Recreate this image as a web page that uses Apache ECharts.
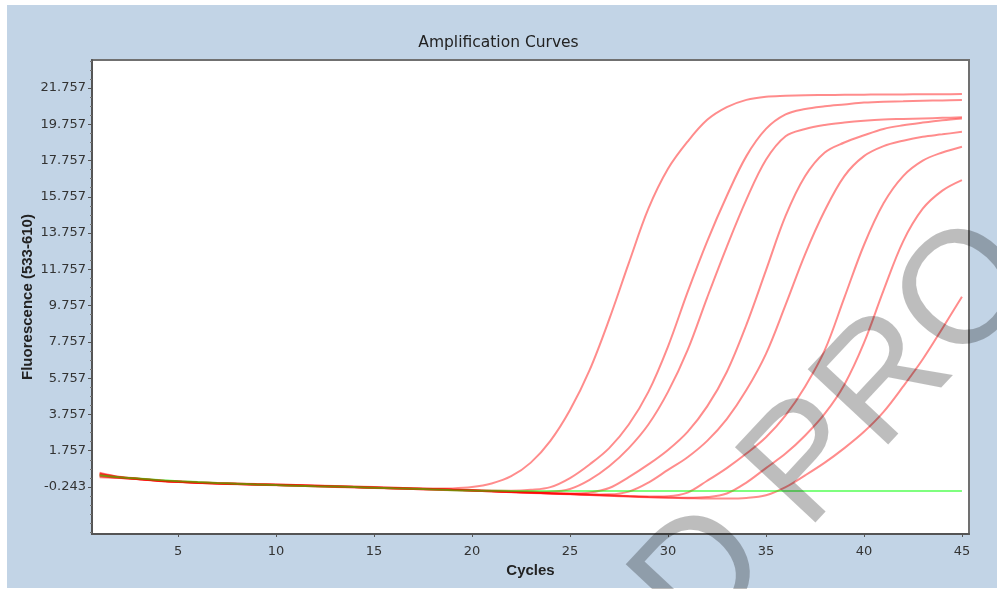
<!DOCTYPE html>
<html>
<head>
<meta charset="utf-8">
<script src="https://cdn.jsdelivr.net/npm/echarts@6/dist/echarts.min.js"></script>
<style>
  html, body { margin: 0; padding: 0; background: #ffffff; }
  #chart { width: 997px; height: 589px; }
</style>
</head>
<body>
<div id="chart"></div>
<script>
// ---- data ----
const cycles = [1,2,3,4,5,6,7,8,9,10,11,12,13,14,15,16,17,18,19,20,21,22,23,24,25,26,27,28,29,30,31,32,33,34,35,36,37,38,39,40,41,42,43,44,45];

const curveA = [0.55,0.32,0.22,0.13,0.07,0.02,-0.02,-0.05,-0.08,-0.10,-0.13,-0.16,-0.19,-0.22,-0.25,-0.28,-0.31,-0.33,-0.32,-0.25,-0.05,0.35,1.1,2.3,4.0,6.2,9.0,12.1,15.1,17.3,18.8,20.0,20.7,21.1,21.28,21.33,21.36,21.37,21.38,21.39,21.40,21.40,21.41,21.41,21.42];
const curveB = [0.45,0.30,0.21,0.12,0.06,0.01,-0.03,-0.06,-0.09,-0.11,-0.14,-0.17,-0.20,-0.23,-0.26,-0.29,-0.32,-0.35,-0.38,-0.41,-0.44,-0.45,-0.40,-0.25,0.25,1.0,1.9,3.2,5.0,7.5,10.5,13.3,15.8,18.0,19.5,20.3,20.6,20.75,20.85,20.95,21.0,21.02,21.05,21.07,21.09];
const curveC = [0.38,0.27,0.19,0.10,0.04,-0.01,-0.05,-0.08,-0.11,-0.13,-0.16,-0.19,-0.22,-0.25,-0.28,-0.31,-0.34,-0.37,-0.40,-0.43,-0.47,-0.50,-0.52,-0.50,-0.35,0.15,0.9,1.9,3.2,5.0,7.3,10.2,13.0,15.6,17.8,19.1,19.5,19.72,19.85,19.95,20.02,20.05,20.08,20.11,20.14];
const curveD = [0.48,0.30,0.20,0.11,0.05,0.00,-0.04,-0.08,-0.11,-0.13,-0.16,-0.19,-0.22,-0.25,-0.28,-0.31,-0.34,-0.37,-0.40,-0.44,-0.48,-0.52,-0.55,-0.58,-0.60,-0.55,-0.30,0.3,1.0,1.8,2.8,4.2,6.1,8.7,11.7,14.7,16.9,18.2,18.75,19.15,19.5,19.7,19.85,19.98,20.08];
const curveE = [0.35,0.26,0.19,0.10,0.04,-0.01,-0.05,-0.08,-0.11,-0.14,-0.17,-0.20,-0.23,-0.26,-0.29,-0.32,-0.35,-0.38,-0.41,-0.44,-0.48,-0.52,-0.56,-0.60,-0.63,-0.66,-0.65,-0.50,0.0,0.7,1.4,2.3,3.5,5.1,7.1,9.8,12.6,15.0,16.9,18.0,18.55,18.85,19.07,19.2,19.34];
const curveF = [0.50,0.31,0.21,0.12,0.06,0.01,-0.03,-0.07,-0.10,-0.12,-0.15,-0.18,-0.21,-0.24,-0.27,-0.30,-0.33,-0.36,-0.39,-0.43,-0.47,-0.51,-0.55,-0.59,-0.62,-0.66,-0.70,-0.74,-0.77,-0.75,-0.55,0.1,0.8,1.6,2.5,3.7,5.3,7.3,10.2,13.1,15.4,16.9,17.75,18.2,18.52];
const curveG = [0.42,0.29,0.20,0.11,0.05,0.00,-0.04,-0.07,-0.10,-0.13,-0.16,-0.19,-0.22,-0.25,-0.28,-0.31,-0.34,-0.37,-0.40,-0.43,-0.47,-0.51,-0.55,-0.59,-0.63,-0.67,-0.71,-0.75,-0.79,-0.82,-0.84,-0.80,-0.60,0.0,0.8,1.6,2.6,3.8,5.4,7.7,10.6,13.3,15.1,16.1,16.68];
const curveH = [0.30,0.25,0.18,0.09,0.03,-0.02,-0.06,-0.09,-0.12,-0.15,-0.18,-0.21,-0.24,-0.27,-0.30,-0.33,-0.36,-0.39,-0.42,-0.45,-0.49,-0.53,-0.57,-0.61,-0.65,-0.69,-0.73,-0.77,-0.81,-0.84,-0.86,-0.88,-0.88,-0.85,-0.70,-0.25,0.4,1.1,1.9,2.8,3.9,5.3,6.8,8.5,10.25];
const negControl = [0.40,0.30,0.22,0.14,0.08,0.03,-0.02,-0.06,-0.10,-0.14,-0.17,-0.20,-0.22,-0.25,-0.28,-0.31,-0.34,-0.38,-0.42,-0.44,-0.45,-0.46,-0.46,-0.46,-0.46,-0.46,-0.46,-0.46,-0.46,-0.46,-0.46,-0.46,-0.46,-0.46,-0.46,-0.46,-0.46,-0.46,-0.46,-0.46,-0.46,-0.46,-0.46,-0.46,-0.46];

const redCurves = [curveA, curveB, curveC, curveD, curveE, curveF, curveG, curveH];

const yTickLabels = [-0.243, 1.757, 3.757, 5.757, 7.757, 9.757, 11.757, 13.757, 15.757, 17.757, 19.757, 21.757];
const xTickLabels = [5, 10, 15, 20, 25, 30, 35, 40, 45];

const chartTitle = 'Amplification Curves';
const yName = 'Fluorescence (533-610)';
const xName = 'Cycles';
const watermark = 'D PRO';

// ---- build ----
const yMin = -2.835, yMax = 23.3;
const xMin = 0.61, xMax = 45.36;

const yMinor = [];
for (let v = -2.743; v < yMax; v += 0.5) {
  const r = Math.round(v * 1000) / 1000;
  if (!yTickLabels.some(t => Math.abs(t - r) < 1e-6)) yMinor.push(r);
}

function pairs(arr) { return cycles.map((c, i) => [c, arr[i]]); }

const series = redCurves.map((arr, i) => ({
  type: 'line',
  name: 'S' + (i + 1),
  data: pairs(arr),
  showSymbol: false,
  smooth: 0.35,
  lineStyle: { color: '#ff0000', width: 2, opacity: 0.45 },
  animation: false,
  z: 2
}));
series.push({
  type: 'line',
  name: 'NC',
  data: pairs(negControl),
  showSymbol: false,
  smooth: 0.3,
  lineStyle: { color: '#00ff00', width: 2, opacity: 0.5 },
  animation: false,
  z: 3
});

const axisFont = 'DejaVu Sans';
const chart = echarts.init(document.getElementById('chart'), null, { renderer: 'canvas' });
chart.setOption({
  animation: false,
  backgroundColor: '#ffffff',
  title: {
    text: chartTitle,
    left: 'center',
    top: 30,
    textStyle: { fontFamily: axisFont, fontSize: 15.5, fontWeight: 'normal', color: '#222' }
  },
  grid: {
    left: 92, top: 60, right: 28, bottom: 55,
    show: true, backgroundColor: '#ffffff', borderColor: '#707070', borderWidth: 2
  },
  xAxis: {
    type: 'value', min: xMin, max: xMax,
    axisLine: { onZero: false, lineStyle: { color: '#555', width: 2 } },
    axisTick: { customValues: xTickLabels, length: 3, lineStyle: { color: '#555' } },
    axisLabel: { customValues: xTickLabels, margin: 11, fontFamily: axisFont, fontSize: 13, color: '#333' },
    splitLine: { show: false },
    name: xName, nameLocation: 'middle', nameGap: 26,
    nameTextStyle: { fontFamily: 'Liberation Sans', fontWeight: 'bold', fontSize: 15, color: '#222' }
  },
  yAxis: [{
    type: 'value', min: yMin, max: yMax,
    axisLine: { onZero: false, lineStyle: { color: '#555', width: 2 } },
    axisTick: { customValues: yTickLabels, length: 4, lineStyle: { color: '#555' } },
    axisLabel: { customValues: yTickLabels, margin: 6, fontFamily: axisFont, fontSize: 13, color: '#333',
      formatter: v => Number(v).toFixed(3) },
    splitLine: { show: false },
    name: yName, nameLocation: 'middle', nameGap: 57, nameMoveOverlap: false,
    nameTextStyle: { fontFamily: 'Liberation Sans', fontWeight: 'bold', fontSize: 15, color: '#222' }
  }, {
    type: 'value', min: yMin, max: yMax, position: 'left',
    axisLine: { show: false, onZero: false },
    axisTick: { customValues: yMinor, length: 2, lineStyle: { color: '#777' } },
    axisLabel: { show: false },
    splitLine: { show: false }
  }],
  series: series,
  graphic: [{
    type: 'rect', z: -10, silent: true,
    shape: { x: 7, y: 5, width: 990, height: 583 },
    style: { fill: '#c2d4e6' }
  }, {
    type: 'text', z: 100, silent: true,
    x: 665, y: 619, rotation: 47 * Math.PI / 180,
    style: {
      text: watermark, font: '160px "Liberation Sans"', fill: 'rgba(0,0,0,0.26)',
      align: 'left', verticalAlign: 'middle'
    }
  }]
});
</script>
</body>
</html>
